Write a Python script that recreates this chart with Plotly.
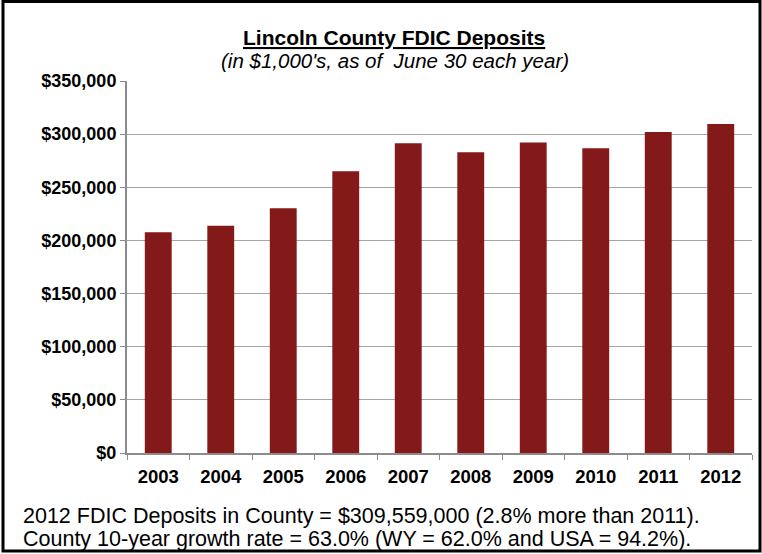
import plotly.graph_objects as go

years = ["2003", "2004", "2005", "2006", "2007", "2008", "2009", "2010", "2011", "2012"]
deposits = [207800, 213800, 230200, 265100, 291500, 283000, 292100, 286800, 301900, 309559]
tick_vals = [0, 50000, 100000, 150000, 200000, 250000, 300000, 350000]
tick_text = ["$0", "$50,000", "$100,000", "$150,000", "$200,000", "$250,000", "$300,000", "$350,000"]
title = "<u>Lincoln County FDIC Deposits</u>"
subtitle = "<i>(in $1,000's, as of  June 30 each year)</i>"
note1 = "2012 FDIC Deposits in County = $309,559,000 (2.8% more than 2011)."
note2 = "County 10-year growth rate = 63.0% (WY = 62.0% and USA = 94.2%)."

W, H = 762, 554
L, R, T, B = 127, 10, 81, 101
pw, ph = W - L - R, H - T - B

def px(x):
    return (x - L) / pw

def py(y):
    return (H - B - y) / ph

fig = go.Figure(go.Bar(
    x=years, y=deposits, marker_color="#841919",
    marker_line_width=0, width=0.43,
))

font = "Arial, Liberation Sans, sans-serif"
fig.update_layout(
    width=W, height=H, margin=dict(l=L, r=R, t=T, b=B),
    paper_bgcolor="white", plot_bgcolor="white",
    font=dict(family=font, color="black"),
    showlegend=False,
    xaxis=dict(
        type="category", showgrid=False, showline=True, linecolor="#8c8c8c", linewidth=2,
        ticks="outside", tickson="boundaries", ticklen=5, tickcolor="#8c8c8c", tickwidth=1,
        tickfont=dict(size=18.5, family=font, color="black", weight="bold"),
        ticklabelstandoff=6,
        range=[-0.5, 9.5],
    ),
    yaxis=dict(
        range=[0, 350000], tickvals=tick_vals, ticktext=tick_text,
        showgrid=True, gridcolor="#a6a6a6", gridwidth=1,
        showline=True, linecolor="#8c8c8c", linewidth=2,
        ticks="outside", ticklen=5, tickcolor="#8c8c8c", tickwidth=1,
        tickfont=dict(size=18, family=font, color="black", weight="bold"),
        zeroline=False,
    ),
    shapes=[dict(
        type="rect", xref="paper", yref="paper",
        x0=px(3), x1=px(760), y0=py(551), y1=py(1.5),
        line=dict(color="black", width=3), fillcolor="rgba(0,0,0,0)", layer="above",
    )],
    annotations=[
        dict(text=title, xref="paper", yref="paper", x=px(394), y=py(37), showarrow=False,
             font=dict(size=21, family=font, weight="bold"), xanchor="center", yanchor="middle"),
        dict(text=subtitle, xref="paper", yref="paper", x=px(395), y=py(60), showarrow=False,
             font=dict(size=20.5, family=font), xanchor="center", yanchor="middle"),
        dict(text=note1, xref="paper", yref="paper", x=px(21), y=py(516), showarrow=False,
             font=dict(size=21.5, family=font), xanchor="left", yanchor="middle"),
        dict(text=note2, xref="paper", yref="paper", x=px(21), y=py(539), showarrow=False,
             font=dict(size=21.5, family=font), xanchor="left", yanchor="middle"),
    ],
)

fig.write_html("out.html")
